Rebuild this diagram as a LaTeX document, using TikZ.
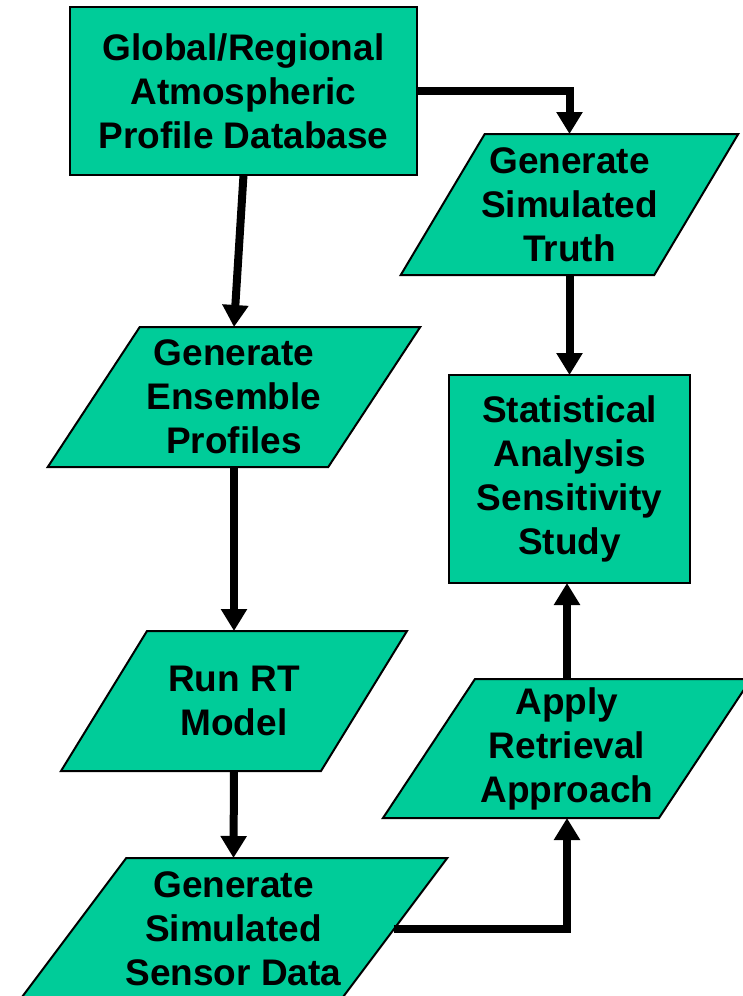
\documentclass[tikz,border=0pt]{standalone}
\usepackage{fontspec}
\setmainfont{Liberation Sans}
\usetikzlibrary{arrows.meta,backgrounds}
\definecolor{boxgreen}{HTML}{00CC99}
\tikzset{
    boxline/.style={draw=black, line width=2pt, fill=boxgreen},
    box/.style={boxline, align=center, inner sep=2pt, outer sep=0pt,
        font=\fontsize{37}{44}\selectfont\bfseries},
    slantbox/.style={box, draw=none, fill=none},
    flow/.style={line width=8pt, -{Triangle[length=22pt,width=25pt]}}
}
\begin{document}
\begin{tikzpicture}[x=1pt, y=-1pt]
    \useasboundingbox (0,0) rectangle (743,996);
    \node[box, minimum width=347, minimum height=168] (db) at (243.5,91) {Global/Regional\\Atmospheric\\Profile Database};
    \node[slantbox, minimum width=253.5, minimum height=141] (truth) at (569.5,204.5) {Generate\\Simulated\\Truth};
    \node[slantbox, minimum width=280.5, minimum height=140] (ens) at (234,397) {Generate\\Ensemble\\Profiles};
    \node[box, minimum width=241, minimum height=208] (stats) at (569.5,479) {Statistical\\Analysis\\Sensitivity\\Study};
    \node[slantbox, minimum width=260, minimum height=140] (run) at (234,701) {Run RT\\Model};
    \node[slantbox, minimum width=276, minimum height=139] (apply) at (567,748.5) {Apply\\Retrieval\\Approach};
    \node[slantbox, minimum width=321, minimum height=142] (sensor) at (233.5,929) {Generate\\Simulated\\Sensor Data};
    \begin{scope}[on background layer]
        \foreach \n/\s in {truth/84, ens/92, run/86, apply/92, sensor/106.5}
            \draw[boxline] ([xshift=\s/2]\n.north west) -- ([xshift=\s/2]\n.north east)
                -- ([xshift=-\s/2]\n.south east) -- ([xshift=-\s/2]\n.south west) -- cycle;
    \end{scope}
    \draw[flow] (db.south) -- (ens.north);
    \draw[flow] (db.east) -| (truth.north);
    \draw[flow] (truth.south) -- (stats.north);
    \draw[flow] (ens.south) -- (run.north);
    \draw[flow] (run.south) -- (sensor.north);
    \draw[flow] (sensor.east) -| (apply.south);
    \draw[flow] (apply.north) -- (apply.north |- stats.south);
\end{tikzpicture}
\end{document}
